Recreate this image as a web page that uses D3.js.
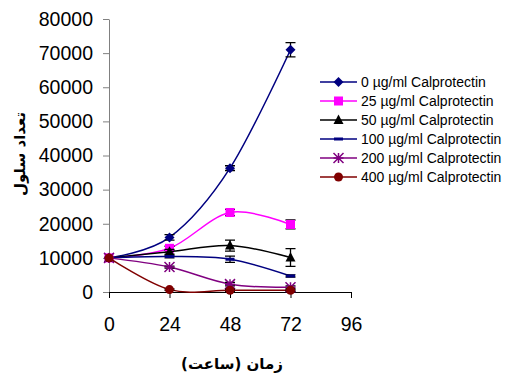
<!DOCTYPE html>
<html><head><meta charset="utf-8">
<script src="https://cdn.jsdelivr.net/npm/d3@7"></script>
<style>body{margin:0;background:#fff}svg{display:block}</style>
</head><body><svg id="c" width="512" height="374"></svg>
<script>
const hours = [0, 24, 48, 72];
const xTicks = [0, 24, 48, 72, 96];
const yTicks = [0, 10000, 20000, 30000, 40000, 50000, 60000, 70000, 80000];
const seriesNames = ["0 µg/ml Calprotectin","25 µg/ml Calprotectin","50 µg/ml Calprotectin","100 µg/ml Calprotectin","200 µg/ml Calprotectin","400 µg/ml Calprotectin"];
const v0   = [10000, 16000, 36300, 71000];
const v25  = [10000, 12800, 23300, 19800];
const v50  = [10000, 11800, 13600, 10100];
const v100 = [10000, 10400, 9600, 4700];
const v200 = [10000, 7300, 2300, 1400];
const v400 = [10000, 700, 500, 500];
const e0   = [0, 800, 700, 2100];
const e25  = [0, 600, 900, 1300];
const e50  = [0, 700, 1600, 2600];
const e100 = [0, 400, 900, 300];
const e200 = [0, 300, 500, 400];
const e400 = [0, 200, 300, 200];
const colors = ["#000080","#FF00FF","#000000","#000080","#800080","#800000"];
const markers = ["diamond","square","triangle","dash","star","circle"];

const values = [v0, v25, v50, v100, v200, v400];
const errs = [e0, e25, e50, e100, e200, e400];

const svg = d3.select("#c");
const x = d3.scaleLinear().domain([0, 96]).range([109, 351]);
const y = d3.scaleLinear().domain([0, 80000]).range([292, 19]);

// y axis
const yAxis = svg.append("g").attr("transform", "translate(109,0)")
  .call(d3.axisLeft(y).tickValues(yTicks).tickSize(6).tickSizeOuter(0).tickFormat(d3.format("d")));
yAxis.select(".domain").attr("stroke", "#808080");
yAxis.selectAll(".tick line").attr("stroke", "#808080");
yAxis.selectAll("text").attr("font-family", "Liberation Sans, Arial, sans-serif").attr("font-size", 19.5).attr("fill", "#000").attr("x", -16);

// x axis
const xAxis = svg.append("g").attr("transform", "translate(0,292)")
  .call(d3.axisBottom(x).tickValues(xTicks).tickSize(6).tickSizeOuter(0));
xAxis.select(".domain").attr("stroke", "#000");
xAxis.selectAll(".tick line").attr("stroke", "#000");
xAxis.selectAll("text").attr("font-family", "Liberation Sans, Arial, sans-serif").attr("font-size", 19.5).attr("fill", "#000").attr("y", 25);

// titles
svg.append("text").attr("transform", "translate(25,154) rotate(-90)").attr("text-anchor", "middle")
  .attr("font-family", "DejaVu Sans, sans-serif").attr("font-weight", "bold").attr("font-size", 15).text("تعداد سلول");
svg.append("text").attr("x", 232).attr("y", 369).attr("text-anchor", "middle")
  .attr("font-family", "DejaVu Sans, sans-serif").attr("font-weight", "bold").attr("font-size", 15).text("زمان (ساعت)");

const line = d3.line().x((d, i) => x(hours[i])).y(d => y(d)).curve(d3.curveCardinal.tension(0));

function drawMarker(g, type, cx, cy, color) {
  if (type === "diamond") g.append("path").attr("d", `M${cx},${cy-5}L${cx+5},${cy}L${cx},${cy+5}L${cx-5},${cy}Z`).attr("fill", color);
  else if (type === "square") g.append("rect").attr("x", cx-4.5).attr("y", cy-4.5).attr("width", 9).attr("height", 9).attr("fill", color);
  else if (type === "triangle") g.append("path").attr("d", `M${cx},${cy-5.5}L${cx+5},${cy+4}L${cx-5},${cy+4}Z`).attr("fill", color);
  else if (type === "dash") g.append("rect").attr("x", cx-4.5).attr("y", cy-1.5).attr("width", 9).attr("height", 3).attr("fill", color);
  else if (type === "star") {
    const r = 5;
    g.append("path").attr("d", `M${cx-r},${cy-r}L${cx+r},${cy+r}M${cx-r},${cy+r}L${cx+r},${cy-r}M${cx},${cy-r}L${cx},${cy+r}M${cx-r},${cy}L${cx+r},${cy}`)
      .attr("stroke", color).attr("stroke-width", 1.5).attr("fill", "none");
  }
  else if (type === "circle") g.append("circle").attr("cx", cx).attr("cy", cy).attr("r", 4.5).attr("fill", color);
}

values.forEach((vals, si) => {
  const g = svg.append("g");
  g.append("path").datum(vals).attr("d", line).attr("fill", "none").attr("stroke", colors[si]).attr("stroke-width", 1.5);
  vals.forEach((v, i) => {
    const e = errs[si][i];
    if (e > 0) {
      const cx = x(hours[i]);
      g.append("path").attr("d", `M${cx},${y(v+e)}L${cx},${y(v-e)}M${cx-5},${y(v+e)}L${cx+5},${y(v+e)}M${cx-5},${y(v-e)}L${cx+5},${y(v-e)}`)
        .attr("stroke", "#000").attr("stroke-width", 1.3).attr("fill", "none");
    }
  });
  vals.forEach((v, i) => drawMarker(g, markers[si], x(hours[i]), y(v), colors[si]));
});

// legend
const lg = svg.append("g");
seriesNames.forEach((n, i) => {
  const ly = 82 + i * 19;
  lg.append("line").attr("x1", 320).attr("x2", 357).attr("y1", ly).attr("y2", ly).attr("stroke", colors[i]).attr("stroke-width", 1.5);
  drawMarker(lg, markers[i], 338.5, ly, colors[i]);
  lg.append("text").attr("x", 361).attr("y", ly + 5).attr("font-family", "Liberation Sans, Arial, sans-serif").attr("font-size", 14).text(n);
});
</script></body></html>
